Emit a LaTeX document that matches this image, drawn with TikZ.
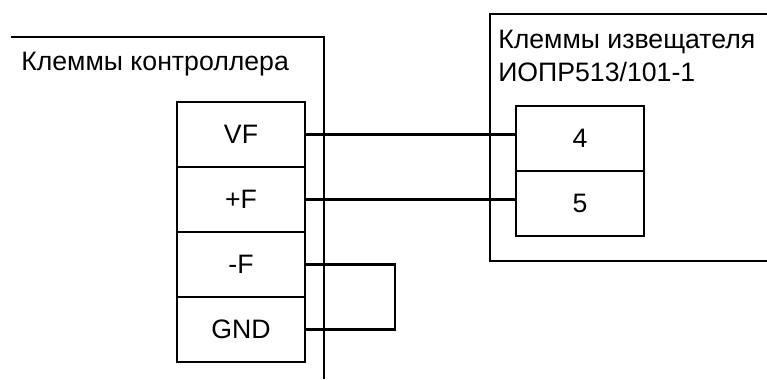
\documentclass[tikz,border=0pt]{standalone}
\usepackage{fontspec}
\setmainfont{Liberation Sans}
\tikzset{
  terminal/.style={draw, line width=0.9pt, minimum width=96pt, minimum height=48.75pt, inner sep=0pt, outer sep=0pt, font=\fontsize{20}{24}\selectfont},
  caption/.style={anchor=base west, inner sep=0pt, font=\fontsize{20}{24.75}\selectfont, align=left},
  outline/.style={line width=0.9pt},
  wire/.style={line width=1.6pt}
}
\begin{document}
\begin{tikzpicture}[x=0.75pt, y=-0.75pt]
\useasboundingbox (0,0) rectangle (767,379);
%%Controller side
\coordinate (CA) at (11,37);
\coordinate (CB) at (324,37);
\coordinate (CC) at (324,379);
\draw[outline] (CA) -- (CB) -- (CC);
\node[caption] (captionC) at (21,70) {Клеммы контроллера};
\node[terminal] (vf) at (241,134.5) {VF};
\node[terminal] (plusf) at (241,199.5) {+F};
\node[terminal] (minusf) at (241,264.5) {-F};
\node[terminal] (gnd) at (241,329.5) {GND};
%%Detector side
\coordinate (DA) at (767,14);
\coordinate (DB) at (490,14);
\coordinate (DC) at (490,261);
\coordinate (DD) at (767,261);
\draw[outline] (DA) -- (DB) -- (DC) -- (DD);
\node[caption] (captionD) at (498,81) {Клеммы извещателя\\ИОПР513/101-1};
\node[terminal] (four) at (580,138.5) {4};
\node[terminal] (five) at (580,203.5) {5};
%%Wires
\coordinate (loop) at (395,297);
\draw[wire] (vf.east) -- (four.west |- vf.east);
\draw[wire] (plusf.east) -- (five.west |- plusf.east);
\draw[wire] (minusf.east) -| (loop) |- (gnd.east);
\end{tikzpicture}
\end{document}
